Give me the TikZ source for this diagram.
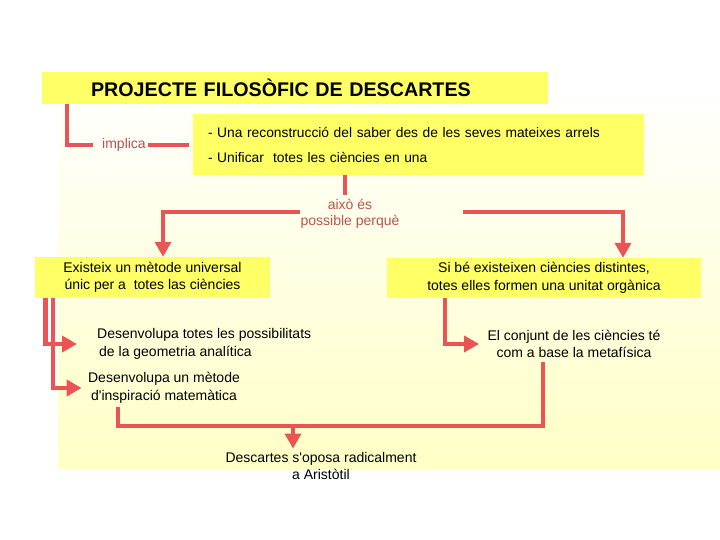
\documentclass[tikz,border=0pt]{standalone}
\usepackage{fontspec}
\setmainfont{Liberation Sans}
\usetikzlibrary{arrows.meta,calc}
\definecolor{linecol}{RGB}{234,84,84}
\definecolor{boxcol}{RGB}{255,255,102}
\definecolor{labcol}{RGB}{188,82,82}
\definecolor{bgtop}{RGB}{255,255,253}
\definecolor{bgbot}{RGB}{255,255,198}
\begin{document}
\begin{tikzpicture}[x=1pt,y=-1pt,
  conn/.style={draw=linecol, line width=4.5pt},
  arr/.style={conn, -{Triangle[width=16pt,length=15pt]}},
  box/.style={fill=boxcol, inner sep=0pt},
  txt/.style={font=\fontsize{14}{17.5}\selectfont},
  lab/.style={text=labcol, font=\fontsize{14}{16}\selectfont}]
\useasboundingbox (0,0) rectangle (720,540);
\shade[top color=bgtop, bottom color=bgbot] (58,95) rectangle (720,468);

% boxes
\node[box, minimum width=506pt, minimum height=32pt, text width=408pt, inner xsep=49pt, align=left,
      font=\bfseries\fontsize{19.7}{22}\selectfont] (title) at (295,88) {PROJECTE FILOSÒFIC DE DESCARTES};
\node[box, minimum height=61pt, text width=421pt, inner xsep=15pt, align=left,
      font=\fontsize{13.8}{25}\selectfont] (sub) at (418.5,144.5)
      {- Una reconstrucció del saber des de les seves mateixes arrels\\- Unificar\ \ totes les ciències en una};
\node[lab, inner xsep=2pt] (impl) at (124,145) {implica};
\node[lab, align=center, inner sep=0pt] (aixo) at (350,214) {això és\\possible perquè};
\node[box, txt, minimum width=235pt, minimum height=41pt, align=center] (exi) at (152.5,277.5)
      {Existeix un mètode universal\\únic per a\ \ totes las ciències};
\node[box, txt, minimum width=314pt, minimum height=40pt, align=center] (sib) at (544,278)
      {Si bé existeixen ciències distintes,\\totes elles formen una unitat orgànica};
\node[txt, align=left, anchor=west, inner sep=0pt] (dev1) at (97,344)
      {Desenvolupa totes les possibilitats\\\hspace{2pt}de la geometria analítica};
\node[txt, align=center] (dev2) at (164,388) {Desenvolupa un mètode\\d\textquotesingle inspiració matemàtica};
\node[txt, align=center] (meta) at (574,344) {El conjunt de les ciències té\\com a base la metafísica};
\node[txt, align=center] (concl) at (321,466) {Descartes s\textquotesingle oposa radicalment\\a Aristòtil};

% connectors
\draw[conn] ([xshift=25pt]title.south west) |- ([xshift=-7pt]impl.west);
\draw[conn] (impl.east) -- ([xshift=-4pt]impl.east -| sub.west);
\draw[conn] ([xshift=-73.5pt]sub.south) -- ++(0,20);
\draw[arr] ([yshift=2pt]aixo.west) -| ([xshift=10.5pt]exi.north);
\draw[arr] ([xshift=63pt,yshift=2pt]aixo.east) -| ([xshift=79pt]sib.north);
\draw[arr] ([xshift=10.5pt]exi.south west) |- ([xshift=-20pt]dev1.west);
\draw[arr] ([xshift=18pt]exi.south west) |- ([xshift=-3pt]dev2.west);
\draw[arr] ([xshift=-99pt]sib.south) |- ([xshift=-5pt]meta.west);
\coordinate (j1) at (293,426);
\draw[conn] ([xshift=-46pt]dev2.south) |- (j1) -| ([xshift=-31pt]meta.south);
\draw[arr] (j1) -- (j1 |- concl.north);
\end{tikzpicture}
\end{document}
